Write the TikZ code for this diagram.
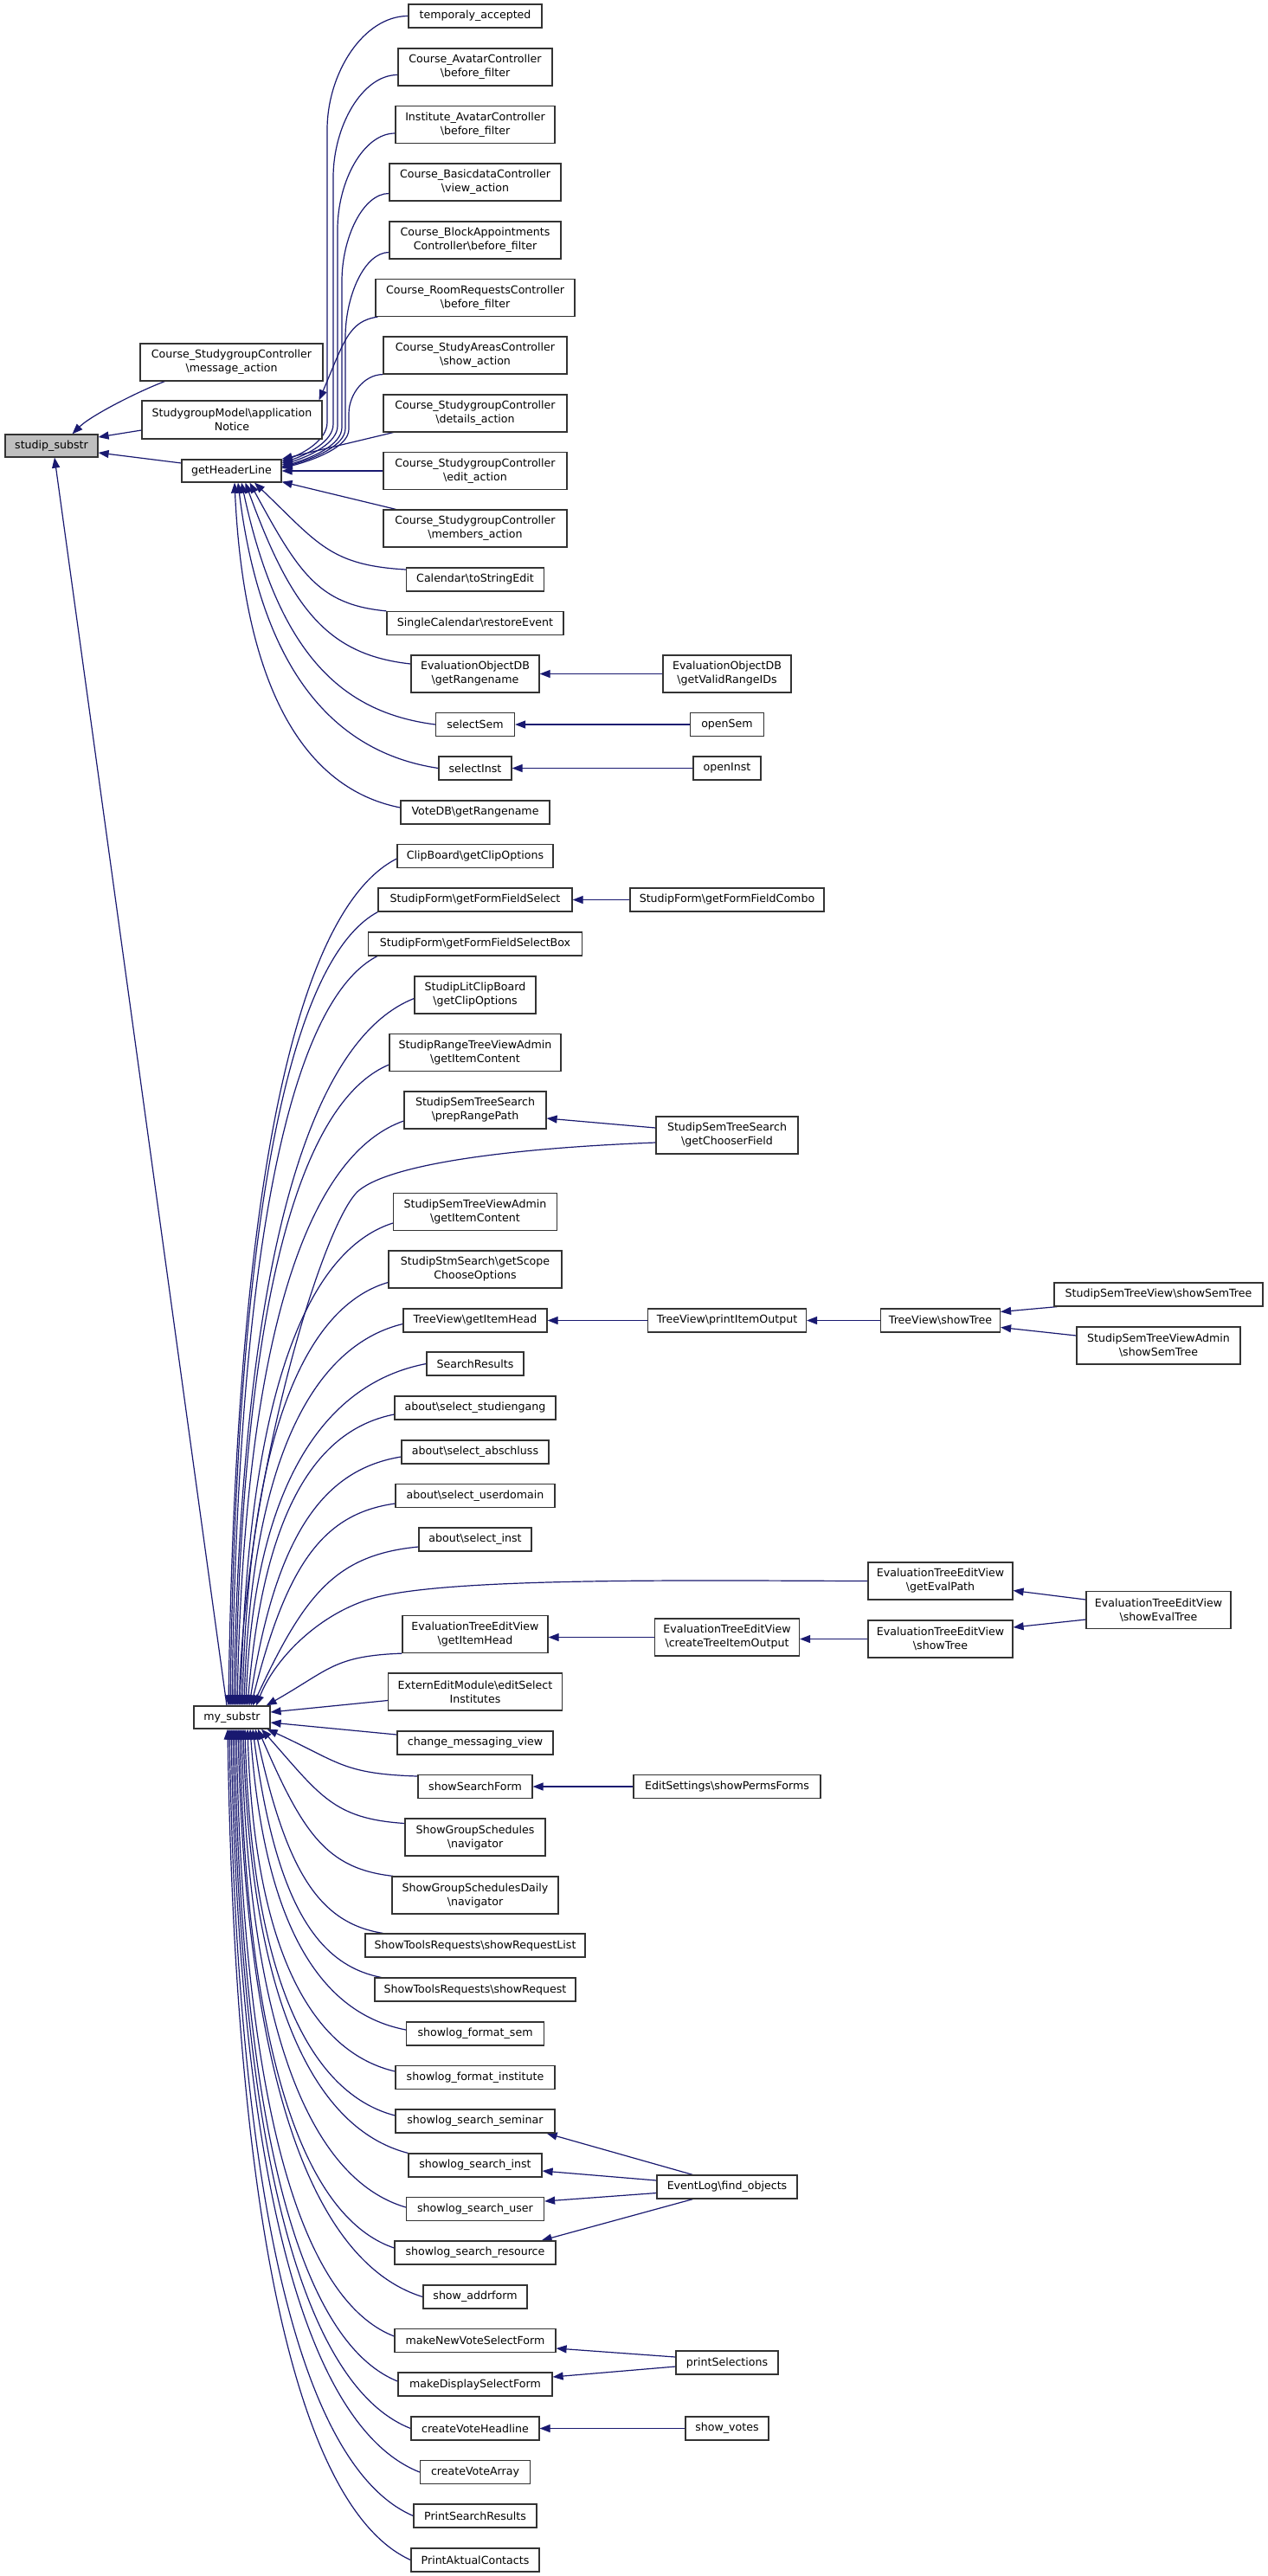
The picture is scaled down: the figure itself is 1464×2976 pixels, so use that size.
\documentclass[tikz,border=0pt]{standalone}
\usepackage{fontspec}
\setmainfont{DejaVu Sans}
\usetikzlibrary{calc,arrows.meta}
\definecolor{edgeblue}{HTML}{191970}
\definecolor{boxgray}{HTML}{BFBFBF}
\pgfdeclarelayer{bg}
\pgfdeclarelayer{paper}
\pgfsetlayers{paper,bg,main}
\newcommand\BSL{\textbackslash}
\newcommand\bx[6]{\node[box,minimum width=#4pt,minimum height=#5pt] (#1) at (#2,#3) {#6};}
% generic fan connector
\newcommand\cedge[2]{\draw[edge] let \p1=(#1), \p2=(#2), \n1={max(0.05,0.55-0.0013*abs((\y1)-(\y2)))} in (\p1) .. controls ({(\x1)-min(110pt,0.5*((\x1)-(\x2)))},{(\y1)+0.05*((\y2)-(\y1))}) and ({(\x2)+\n1*((\x1)-(\x2))},{(\y2)+0.7*((\y1)-(\y2))}) .. (\p2);}
% top fan into getHeaderLine: src, tgt, lane x, knee y
\newcommand\tedge[4]{\draw[edge] let \p1=(#1), \p2=(#2) in (\p1) .. controls ({(\x1)-0.55*((\x1)-#3pt)},{\y1}) and (#3pt,{((\y1)-#4pt)/2}) .. (#3pt,-#4pt) -- (#3pt,{(\y2)+45pt}) .. controls (#3pt,{(\y2)+25pt}) and ({(#3pt+(\x2))/2},{(\y2)+10pt}) .. (\p2);}
\begin{document}
\begin{tikzpicture}[x=1pt,y=-1pt,
  box/.style={draw=black!80,line width=1.2pt,fill=white,inner sep=0pt,align=center,font=\fontsize{12.6}{16}\selectfont},
  edge/.style={draw=edgeblue,line width=1.2pt,-{Triangle[length=12pt,width=9pt]}}]
\begin{pgfonlayer}{paper}
\path[use as bounding box,fill=white] (0,0) rectangle (1464,2976);
\end{pgfonlayer}

% column 0 / 1
\node[box,fill=boxgray,minimum width=107pt,minimum height=26pt] (ss) at (59.5,515) {studip\_substr};
\bx{msg}{267.5}{418.5}{211}{43}{Course\_StudygroupController\\\BSL message\_action}
\bx{appn}{268}{485}{208}{44}{StudygroupModel\BSL application\\Notice}
\bx{ghl}{267.5}{544}{115}{26}{getHeaderLine}
\bx{mys}{268}{1984}{88}{26}{my\_substr}

% column 2
\bx{ta}{549}{18.5}{154}{27}{temporaly\_accepted}
\bx{cav}{549}{77.5}{178}{43}{Course\_AvatarController\\\BSL before\_filter}
\bx{iav}{549}{144}{184}{43}{Institute\_AvatarController\\\BSL before\_filter}
\bx{cbd}{549}{210.5}{198}{43}{Course\_BasicdataController\\\BSL view\_action}
\bx{cba}{549}{277.5}{198}{43}{Course\_BlockAppointments\\Controller\BSL before\_filter}
\bx{crr}{549}{344}{230}{43}{Course\_RoomRequestsController\\\BSL before\_filter}
\bx{csa}{549}{410.5}{212}{43}{Course\_StudyAreasController\\\BSL show\_action}
\bx{csd}{549}{477.5}{212}{43}{Course\_StudygroupController\\\BSL details\_action}
\bx{cse}{549}{544}{212}{43}{Course\_StudygroupController\\\BSL edit\_action}
\bx{csm}{549}{610.5}{212}{43}{Course\_StudygroupController\\\BSL members\_action}
\bx{cal}{549}{669.5}{159}{27}{Calendar\BSL toStringEdit}
\bx{scal}{549}{720}{204}{27}{SingleCalendar\BSL restoreEvent}
\bx{eorn}{549}{778.5}{148}{43}{EvaluationObjectDB\\\BSL getRangename}
\bx{ssem}{549}{837}{91}{27}{selectSem}
\bx{sinst}{549}{887.5}{84}{27}{selectInst}
\bx{vdb}{549}{938.5}{172}{27}{VoteDB\BSL getRangename}
\bx{cb}{549}{989}{180}{27}{ClipBoard\BSL getClipOptions}
\bx{sffs}{549}{1039.5}{224}{27}{StudipForm\BSL getFormFieldSelect}
\bx{sffsb}{549}{1090.5}{247}{27}{StudipForm\BSL getFormFieldSelectBox}
\bx{slcb}{549}{1149.5}{140}{43}{StudipLitClipBoard\\\BSL getClipOptions}
\bx{srtva}{549}{1216}{198}{43}{StudipRangeTreeViewAdmin\\\BSL getItemContent}
\bx{sstsp}{549}{1282.5}{164}{43}{StudipSemTreeSearch\\\BSL prepRangePath}
\bx{sstva}{549}{1400}{189}{43}{StudipSemTreeViewAdmin\\\BSL getItemContent}
\bx{sss}{549}{1466.5}{200}{43}{StudipStmSearch\BSL getScope\\ChooseOptions}
\bx{tvgih}{549}{1525.5}{166}{27}{TreeView\BSL getItemHead}
\bx{sr}{549}{1575.5}{112}{27}{SearchResults}
\bx{ass}{549}{1626.5}{186}{27}{about\BSL select\_studiengang}
\bx{asa}{549}{1677.5}{170}{27}{about\BSL select\_abschluss}
\bx{asu}{549}{1728}{184}{27}{about\BSL select\_userdomain}
\bx{asi}{549}{1778.5}{130}{27}{about\BSL select\_inst}
\bx{etgih}{549}{1888}{168}{43}{EvaluationTreeEditView\\\BSL getItemHead}
\bx{eem}{549}{1954.5}{201}{43}{ExternEditModule\BSL editSelect\\Institutes}
\bx{cmv}{549}{2013.5}{180}{27}{change\_messaging\_view}
\bx{ssf}{549}{2064}{132}{27}{showSearchForm}
\bx{sgs}{549}{2122.5}{162}{43}{ShowGroupSchedules\\\BSL navigator}
\bx{sgsd}{549}{2189.5}{192}{43}{ShowGroupSchedulesDaily\\\BSL navigator}
\bx{strl}{549}{2247.5}{254}{27}{ShowToolsRequests\BSL showRequestList}
\bx{str}{549}{2298.5}{232}{27}{ShowToolsRequests\BSL showRequest}
\bx{sfs}{549}{2349.5}{159}{27}{showlog\_format\_sem}
\bx{sfi}{549}{2400}{184}{27}{showlog\_format\_institute}
\bx{sss2}{549}{2450.5}{184}{27}{showlog\_search\_seminar}
\bx{ssi}{549}{2501.5}{154}{27}{showlog\_search\_inst}
\bx{ssu}{549}{2552}{159}{27}{showlog\_search\_user}
\bx{ssr}{549}{2602.5}{186}{27}{showlog\_search\_resource}
\bx{saf}{549}{2653.5}{120}{27}{show\_addrform}
\bx{mnv}{549}{2704}{186}{27}{makeNewVoteSelectForm}
\bx{mds}{549}{2754.5}{178}{27}{makeDisplaySelectForm}
\bx{cvh}{549}{2805.5}{148}{27}{createVoteHeadline}
\bx{cva}{549}{2856}{127}{27}{createVoteArray}
\bx{psr}{549}{2906.5}{142}{27}{PrintSearchResults}
\bx{pac}{549}{2957.5}{148}{27}{PrintAktualContacts}

% column 3
\bx{eovr}{840}{778.5}{148}{43}{EvaluationObjectDB\\\BSL getValidRangeIDs}
\bx{osem}{840}{837}{85}{27}{openSem}
\bx{oinst}{840}{887.5}{78}{27}{openInst}
\bx{sffc}{840}{1039.5}{224}{27}{StudipForm\BSL getFormFieldCombo}
\bx{sstgc}{840}{1311.5}{164}{43}{StudipSemTreeSearch\\\BSL getChooserField}
\bx{tvpio}{840}{1525.5}{183}{27}{TreeView\BSL printItemOutput}
\bx{etcto}{840}{1891.5}{167}{43}{EvaluationTreeEditView\\\BSL createTreeItemOutput}
\bx{esp}{840}{2064}{216}{27}{EditSettings\BSL showPermsForms}
\bx{elfo}{840}{2526.5}{162}{27}{EventLog\BSL find\_objects}
\bx{psel}{840}{2729.5}{118}{27}{printSelections}
\bx{svotes}{840}{2805.5}{96}{27}{show\_votes}

% column 4
\bx{tvst}{1086.5}{1525.5}{138}{27}{TreeView\BSL showTree}
\bx{etgep}{1086.5}{1826.5}{167}{43}{EvaluationTreeEditView\\\BSL getEvalPath}
\bx{etst}{1086.5}{1893.5}{167}{43}{EvaluationTreeEditView\\\BSL showTree}

% column 5
\bx{sstvss}{1338.5}{1495.5}{241}{27}{StudipSemTreeView\BSL showSemTree}
\bx{sstvass}{1338.5}{1554.5}{189}{43}{StudipSemTreeViewAdmin\\\BSL showSemTree}
\bx{etset}{1338.5}{1860}{167}{43}{EvaluationTreeEditView\\\BSL showEvalTree}

\begin{pgfonlayer}{bg}
% into studip_substr
\draw[edge] ($(msg.south west)+(29,0)$) .. controls (160,452) and (105,480) .. ($(ss.north)+(24,0)$);
\draw[edge] ($(appn.west)+(0,12)$) -- ($(ss.east)+(0,-10)$);
\draw[edge] ($(ghl.west)+(0,-9)$) -- ($(ss.east)+(0,8)$);
\draw[edge] ($(mys.north)+(-6,0)$) -- ($(ss.south)+(3.5,0)$);

% top fan into getHeaderLine
\tedge{$(ta.west)$}{$(ghl.east)+(0,-11)$}{378}{150}
\tedge{$(cav.west)+(0,9)$}{$(ghl.east)+(0,-9)$}{385}{205}
\tedge{$(iav.west)+(0,10)$}{$(ghl.east)+(0,-7)$}{390}{265}
\tedge{$(cbd.west)+(0,13)$}{$(ghl.east)+(0,-5)$}{395}{325}
\tedge{$(cba.west)+(0,14)$}{$(ghl.east)+(0,-4)$}{399}{390}
\tedge{$(csa.south west)$}{$(ghl.east)+(0,-3)$}{403}{478}
\draw[edge] ($(csd.south west)+(12,0)$) -- (ghl.north east);
\draw[edge] (cse.west) -- (ghl.east);
\draw[edge] ($(csm.north west)+(15,0)$) -- ($(ghl.south east)+(0,-1)$);
\cedge{$(crr.south west)+(3,0)$}{$(appn.north east)+(-4,0)$}

% bottom fan into getHeaderLine
\cedge{$(cal.west)+(0,-11.5)$}{$(ghl.south)+(26.5,0)$}
\cedge{$(scal.north west)$}{$(ghl.south)+(21,0)$}
\cedge{$(eorn.west)+(0,-11.5)$}{$(ghl.south)+(16,0)$}
\cedge{$(ssem.west)$}{$(ghl.south)+(11.5,0)$}
\cedge{$(sinst.west)$}{$(ghl.south)+(7.5,0)$}
\cedge{$(vdb.west)+(0,-5.5)$}{$(ghl.south)+(3.5,0)$}

% upper fan into my_substr
\cedge{$(cb.west)+(0,3)$}{$(mys.north)+(-4,0)$}
\cedge{$(sffs.south west)$}{$(mys.north)+(-2,0)$}
\cedge{$(sffsb.south west)+(11,0)$}{$(mys.north)$}
\cedge{$(slcb.west)+(0,4)$}{$(mys.north)+(2,0)$}
\cedge{$(srtva.west)+(0,14)$}{$(mys.north)+(4,0)$}
\cedge{$(sstsp.west)+(0,12.5)$}{$(mys.north)+(6,0)$}
\draw[edge] ($(sstgc.west)+(0,8.5)$) .. controls (600,1326) and (455,1343) .. (415,1375) .. controls (375,1407) and (285,1700) .. ($(mys.north)+(8,0)$);
\cedge{$(sstva.west)+(0,13)$}{$(mys.north)+(10,0)$}
\cedge{$(sss.west)+(0,15)$}{$(mys.north)+(12,0)$}
\cedge{$(tvgih.west)+(0,4)$}{$(mys.north)+(14,0)$}
\cedge{$(sr.west)$}{$(mys.north)+(16,0)$}
\cedge{$(ass.west)+(0,7.5)$}{$(mys.north)+(18,0)$}
\cedge{$(asa.west)+(0,5.5)$}{$(mys.north)+(20,0)$}
\cedge{$(asu.west)+(0,9)$}{$(mys.north)+(22,0)$}
\cedge{$(asi.west)+(0,8.5)$}{$(mys.north)+(24,0)$}
\draw[edge] (etgep.west) .. controls (800,1826) and (520,1822) .. (432,1846) .. controls (370,1863) and (318,1915) .. ($(mys.north)+(28,0)$);
\cedge{$(etgih.south west)$}{$(mys.north east)+(-5,0)$}
\draw[edge] ($(eem.west)+(0,10)$) -- ($(mys.east)+(0,-6)$);
\draw[edge] ($(cmv.west)+(0,-9.5)$) -- ($(mys.east)+(0,6)$);

% lower fan into my_substr
\cedge{$(ssf.west)+(0,-12)$}{$(mys.south east)+(-4,0)$}
\cedge{$(sgs.west)+(0,-16)$}{$(mys.south)+(34,0)$}
\cedge{$(sgsd.north west)+(2,0)$}{$(mys.south)+(30,0)$}
\cedge{$(strl.north west)+(21,0)$}{$(mys.south)+(27,0)$}
\cedge{$(str.north west)+(8,0)$}{$(mys.south)+(24,0)$}
\cedge{$(sfs.west)+(0,-4.5)$}{$(mys.south)+(21,0)$}
\cedge{$(sfi.west)+(0,-7)$}{$(mys.south)+(18,0)$}
\cedge{$(sss2.west)+(0,-6.5)$}{$(mys.south)+(15,0)$}
\cedge{$(ssi.north west)$}{$(mys.south)+(13,0)$}
\cedge{$(ssu.west)+(0,-2)$}{$(mys.south)+(11,0)$}
\cedge{$(ssr.west)+(0,-5.5)$}{$(mys.south)+(9,0)$}
\cedge{$(saf.west)$}{$(mys.south)+(7,0)$}
\cedge{$(mnv.west)+(0,-5)$}{$(mys.south)+(5,0)$}
\cedge{$(mds.west)+(0,-3.5)$}{$(mys.south)+(3,0)$}
\cedge{$(cvh.west)$}{$(mys.south)+(1,0)$}
\cedge{$(cva.west)$}{$(mys.south)+(-1,0)$}
\cedge{$(psr.west)$}{$(mys.south)+(-3,0)$}
\cedge{$(pac.west)$}{$(mys.south)+(-5,0)$}

% right-hand callers
\draw[edge] (eovr) -- (eorn);
\draw[edge] (osem) -- (ssem);
\draw[edge] (oinst) -- (sinst);
\draw[edge] (sffc) -- (sffs);
\draw[edge] ($(sstgc.west)+(0,-8.5)$) -- ($(sstsp.east)+(0,9.5)$);
\draw[edge] (tvpio) -- (tvgih);
\draw[edge] (tvst) -- (tvpio);
\draw[edge] ($(sstvss.south west)+(4,0)$) -- ($(tvst.east)+(0,-10)$);
\draw[edge] ($(sstvass.west)+(0,-11.5)$) -- ($(tvst.east)+(0,8)$);
\draw[edge] ($(etset.west)+(0,-12)$) -- ($(etgep.east)+(0,11)$);
\draw[edge] ($(etset.west)+(0,11)$) -- ($(etst.east)+(0,-13.5)$);
\draw[edge] (etst.west) -- (etst.west -| etcto.east);
\draw[edge] (etcto.west) -- (etcto.west -| etgih.east);
\draw[edge] (esp) -- (ssf);
\draw[edge] ($(elfo.north west)+(42,0)$) -- ($(sss2.south east)+(-10,0)$);
\draw[edge] ($(elfo.west)+(0,-7.5)$) -- ($(ssi.east)+(0,6.5)$);
\draw[edge] ($(elfo.west)+(0,7)$) -- ($(ssu.east)+(0,-9)$);
\draw[edge] ($(elfo.south west)+(42,0)$) -- ($(ssr.north east)+(-17,0)$);
\draw[edge] ($(psel.west)+(0,-6.5)$) -- ($(mnv.east)+(0,9)$);
\draw[edge] ($(psel.west)+(0,4.5)$) -- ($(mds.east)+(0,-8.5)$);
\draw[edge] (svotes) -- (cvh);
\end{pgfonlayer}
\end{tikzpicture}
\end{document}
